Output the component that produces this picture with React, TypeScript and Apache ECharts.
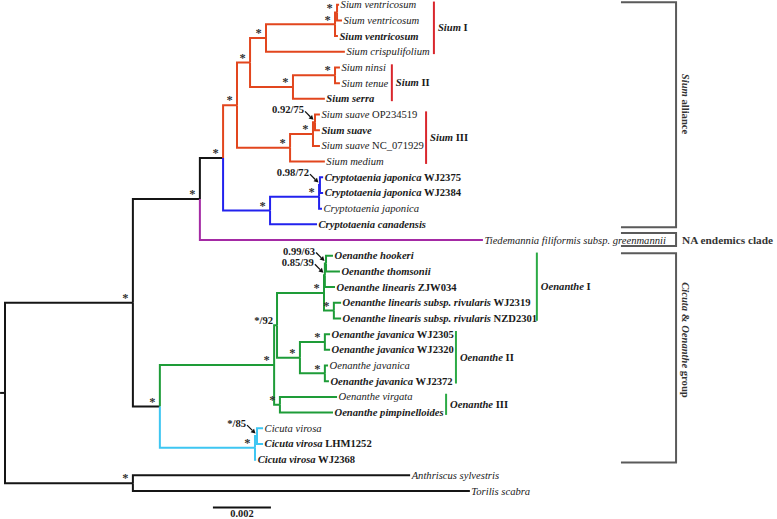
import { useEffect, useRef } from "react";
import * as echarts from "echarts";

// ---------- DATA ----------
// tips (top to bottom)
const tipSpecies = [
  "Sium ventricosum", "Sium ventricosum", "Sium ventricosum", "Sium crispulifolium",
  "Sium ninsi", "Sium tenue", "Sium serra",
  "Sium suave", "Sium suave", "Sium suave", "Sium medium",
  "Cryptotaenia japonica", "Cryptotaenia japonica", "Cryptotaenia japonica", "Cryptotaenia canadensis",
  "Tiedemannia filiformis subsp. greenmannii",
  "Oenanthe hookeri", "Oenanthe thomsonii", "Oenanthe linearis",
  "Oenanthe linearis subsp. rivularis", "Oenanthe linearis subsp. rivularis",
  "Oenanthe javanica", "Oenanthe javanica", "Oenanthe javanica", "Oenanthe javanica",
  "Oenanthe virgata", "Oenanthe pimpinelloides",
  "Cicuta virosa", "Cicuta virosa", "Cicuta virosa",
  "Anthriscus sylvestris", "Torilis scabra",
];
const tipCodes = [
  "", "", "", "", "", "", "", "OP234519", "", "NC_071929", "",
  "WJ2375", "WJ2384", "", "", "",
  "", "", "ZJW034", "WJ2319", "NZD2301", "WJ2305", "WJ2320", "", "WJ2372", "", "",
  "", "LHM1252", "WJ2368", "", "",
];
const tipBold = [0, 0, 1, 0, 0, 0, 1, 0, 1, 0, 0, 1, 1, 0, 1, 0, 1, 1, 1, 1, 1, 1, 1, 0, 1, 0, 1, 0, 1, 1, 0, 0];
// cumulative distance from root, in units of 0.001 substitutions/site
const tipDepth = [
  11.52, 11.62, 11.48, 11.72, 11.55, 11.55, 11.03, 10.86, 10.86, 10.86, 11.03,
  10.97, 10.97, 10.93, 10.76, 16.48,
  11.31, 11.55, 11.38, 11.59, 11.59, 11.21, 11.21, 11.14, 11.17, 11.45, 11.31,
  8.9, 8.9, 8.66, 13.97, 16.03,
];
const tipClade = [
  "S", "S", "S", "S", "S", "S", "S", "S", "S", "S", "S",
  "C", "C", "C", "C", "T",
  "O", "O", "O", "O", "O", "O", "O", "O", "O", "O", "O",
  "V", "V", "V", "K", "K",
];

// internal nodes
const nodeNames = [
  "root", "ingroup", "outgroup", "A", "B", "Sium", "SiumI_II", "SiumI", "vent3", "vent2",
  "SiumII", "ninsiTenue", "SiumIII", "suave3", "suave2", "Crypto", "jap3", "jap2",
  "CO", "Oen", "OenI_II", "OenI", "OenIb", "OenIc", "rivularis", "OenII", "jav1", "jav2", "OenIII",
  "Cicuta", "Cicuta2",
];
const nodeChildren: (number | string)[][] = [
  ["ingroup", "outgroup"], ["A", "CO"], [30, 31], ["B", 15], ["Sium", "Crypto"],
  ["SiumI_II", "SiumIII"], ["SiumI", "SiumII"], ["vent3", 3], ["vent2", 2], [0, 1],
  ["ninsiTenue", 6], [4, 5], ["suave3", 10], ["suave2", 9], [7, 8],
  ["jap3", 14], ["jap2", 13], [11, 12],
  ["Oen", "Cicuta"], ["OenI_II", "OenIII"], ["OenI", "OenII"], ["OenIb", "rivularis"],
  ["OenIc", 18], [16, 17], [19, 20], ["jav1", "jav2"], [21, 22], [23, 24], [25, 26],
  ["Cicuta2", 29], [27, 28],
];
const nodeDepth = [
  0, 4.41, 4.41, 6.72, 7.52, 8.0, 8.45, 9.0, 11.38, 11.45,
  9.93, 11.38, 9.83, 10.62, 10.69, 9.14, 10.83, 10.86,
  5.34, 9.28, 9.38, 11.0, 11.03, 11.07, 11.34, 10.17, 11.03, 11.03, 9.48,
  8.62, 8.69,
];
const nodeClade = [
  "K", "K", "K", "K", "K", "S", "S", "S", "S", "S",
  "S", "S", "S", "S", "S", "C", "C", "C",
  "K", "O", "O", "O", "O", "O", "O", "O", "O", "O", "O",
  "V", "V",
];
const nodeSupport = [
  "", "*", "*", "*", "*", "*", "*", "*", "*", "*",
  "*", "*", "*", "*", "0.92/75", "*", "*", "0.98/72",
  "*", "*", "*/92", "*", "0.85/39", "0.99/63", "*", "*", "*", "*", "*",
  "*", "*/85",
];
const nodeArrow = [
  0, 0, 0, 0, 0, 0, 0, 0, 0, 0,
  0, 0, 0, 0, 1, 0, 0, 1,
  0, 0, 0, 0, 1, 1, 0, 0, 0, 0, 0,
  0, 1,
];

// clade bars on the right of tips
const cladeGenus = ["Sium", "Sium", "Sium", "Oenanthe", "Oenanthe", "Oenanthe"];
const cladeNumeral = ["I", "II", "III", "I", "II", "III"];
const cladeFirst = [0, 4, 7, 16, 21, 25];
const cladeLast = [3, 6, 10, 20, 24, 26];
const cladeColor = ["R", "R", "R", "G", "G", "G"];

// group brackets
const groupLabels = ["{bi|Sium} {b|alliance}", "{b|NA endemics clade}", "{bi|Cicuta} {b|&} {bi|Oenanthe} {b|group}"];
const groupFirst = [0, 15, 16];
const groupLast = [14, 15, 29];

// scale bar
const scaleLength = 2; // 0.002
const scaleLabel = "0.002";

// ---------- LAYOUT / STYLE ----------
const COLORS: Record<string, string> = {
  S: "#E2461E", C: "#2222EE", T: "#A42AA4", O: "#1E9C38", V: "#3EC6F2", K: "#151515",
  R: "#D9262C", G: "#2BAA45",
};
const FONT = "'Liberation Serif', 'Times New Roman', serif";
const FS = 10.6;
const TXT = "#1a1a1a";
const cladeBarX = [14.79, 13.34, 14.52, 18.34, 15.55, 15.21];
const bracketX0 = 21.24;
const bracketX1 = 23.14;
const groupTextY = [6.33, 15, 21.37];

const nodeIndex: Record<string, number> = {};
nodeNames.forEach((n, i) => (nodeIndex[n] = i));
const nodeY: number[] = [];
function yOf(c: number | string): number {
  if (typeof c === "number") return c;
  const k = nodeIndex[c];
  if (nodeY[k] === undefined) {
    const ys = nodeChildren[k].map(yOf);
    nodeY[k] = (Math.min(...ys) + Math.max(...ys)) / 2;
  }
  return nodeY[k];
}
nodeNames.forEach((n) => yOf(n));
const depthOf = (c: number | string) => (typeof c === "number" ? tipDepth[c] : nodeDepth[nodeIndex[c]]);
const cladeOf = (c: number | string) => (typeof c === "number" ? tipClade[c] : nodeClade[nodeIndex[c]]);

const branchData: number[][] = [];
const branchColor: string[] = [];
nodeChildren.forEach((kids, k) => {
  kids.forEach((c) => {
    branchData.push([nodeDepth[k], nodeY[k], depthOf(c), yOf(c)]);
    branchColor.push(COLORS[cladeOf(c)]);
  });
});
// root stub
branchData.push([-0.17, nodeY[0], 0, nodeY[0]]);
branchColor.push(COLORS.K);

const rich = {
  i: { fontStyle: "italic", fontFamily: FONT, fontSize: FS, fill: TXT },
  bi: { fontStyle: "italic", fontWeight: "bold", fontFamily: FONT, fontSize: FS, fill: TXT },
  b: { fontWeight: "bold", fontFamily: FONT, fontSize: FS, fill: TXT },
  n: { fontFamily: FONT, fontSize: FS, fill: TXT },
};
const tipLabel = (i: number) => {
  const b = tipBold[i] === 1;
  let s = `{${b ? "bi" : "i"}|${tipSpecies[i]}}`;
  if (tipCodes[i]) s += `{${b ? "b" : "n"}| ${tipCodes[i]}}`;
  return s;
};

function buildOption() {
  return {
    animation: false,
    grid: { left: 5, top: 4.7, width: 754, height: 486.3, show: false },
    xAxis: { type: "value", min: 0, max: 26, show: false },
    yAxis: { type: "value", min: 0, max: 31, inverse: true, show: false },
    series: [
      {
        type: "custom",
        clip: false,
        data: branchData,
        renderItem: (params: any, api: any) => {
          const p1 = api.coord([api.value(0), api.value(1)]);
          const p2 = api.coord([api.value(0), api.value(3)]);
          const p3 = api.coord([api.value(2), api.value(3)]);
          return {
            type: "polyline",
            shape: { points: [p1, p2, p3] },
            style: { stroke: branchColor[params.dataIndex], lineWidth: 2, fill: "none" },
          };
        },
      },
      {
        type: "custom",
        clip: false,
        data: tipDepth.map((d, i) => [d, i]),
        renderItem: (params: any, api: any) => {
          const p = api.coord([api.value(0), api.value(1)]);
          return {
            type: "text",
            x: p[0] + 1.5,
            y: p[1],
            style: {
              text: tipLabel(params.dataIndex),
              rich,
              fontFamily: FONT,
              fontSize: FS,
              fill: TXT,
              align: "left",
              verticalAlign: "middle",
            },
          };
        },
      },
      {
        type: "custom",
        clip: false,
        data: nodeDepth.map((d, k) => [d, nodeY[k]]),
        renderItem: (params: any, api: any) => {
          const k = params.dataIndex;
          const sup = nodeSupport[k];
          if (!sup) return null;
          const p = api.coord([api.value(0), api.value(1)]);
          if (sup === "*") {
            return {
              type: "text",
              x: p[0] - 7.5,
              y: p[1] - 4.8,
              style: { text: "*", fontFamily: FONT, fontSize: 12.5, lineHeight: 10, fontWeight: "bold", fill: "#222", opacity: 0.95, align: "center", verticalAlign: "middle" },
            };
          }
          if (!nodeArrow[k]) {
            return {
              type: "text",
              x: p[0] - 4,
              y: p[1] - 5,
              style: { text: sup, fontFamily: FONT, fontSize: FS, fontWeight: "bold", fill: TXT, align: "right", verticalAlign: "middle" },
            };
          }
          const sx = p[0] - 10, sy = p[1] - 11;
          const ex = p[0] - 1.5, ey = p[1] - 2.5;
          const dx = ex - sx, dy = ey - sy;
          const L = Math.hypot(dx, dy);
          const ux = dx / L, uy = dy / L;
          const hx = ex - ux * 4.5, hy = ey - uy * 4.5;
          return {
            type: "group",
            children: [
              {
                type: "text",
                x: p[0] - 11,
                y: p[1] - 12.5,
                style: { text: sup, fontFamily: FONT, fontSize: FS, fontWeight: "bold", fill: TXT, align: "right", verticalAlign: "middle" },
              },
              {
                type: "line",
                shape: { x1: sx, y1: sy, x2: hx, y2: hy },
                style: { stroke: "#111", lineWidth: 1.3 },
              },
              {
                type: "polygon",
                shape: { points: [[ex, ey], [hx - uy * 2.5, hy + ux * 2.5], [hx + uy * 2.5, hy - ux * 2.5]] },
                style: { fill: "#111" },
              },
            ],
          };
        },
      },
      {
        type: "custom",
        clip: false,
        data: cladeBarX.map((x, i) => [x, cladeFirst[i] - 0.2, cladeLast[i] + 0.15]),
        renderItem: (params: any, api: any) => {
          const i = params.dataIndex;
          const a = api.coord([api.value(0), api.value(1)]);
          const b = api.coord([api.value(0), api.value(2)]);
          return {
            type: "group",
            children: [
              {
                type: "line",
                shape: { x1: a[0], y1: a[1], x2: b[0], y2: b[1] },
                style: { stroke: COLORS[cladeColor[i]], lineWidth: 2 },
              },
              {
                type: "text",
                x: a[0] + 4,
                y: (a[1] + b[1]) / 2,
                style: {
                  text: `{bi|${cladeGenus[i]}}{b| ${cladeNumeral[i]}}`,
                  rich,
                  fontFamily: FONT,
                  fontSize: FS,
                  fill: TXT,
                  align: "left",
                  verticalAlign: "middle",
                },
              },
            ],
          };
        },
      },
      {
        type: "custom",
        clip: false,
        data: groupFirst.map((f, i) => [bracketX0, bracketX1, f - (i === 1 ? 0.45 : 0.15), groupLast[i] + (i === 1 ? 0.38 : 0.18), groupTextY[i]]),
        renderItem: (params: any, api: any) => {
          const i = params.dataIndex;
          const tl = api.coord([api.value(0), api.value(2)]);
          const br = api.coord([api.value(1), api.value(3)]);
          const ty = api.coord([api.value(1), api.value(4)]);
          const isNA = i === 1;
          const stroke = "#5a5a5a";
          return {
            type: "group",
            children: [
              { type: "polyline", shape: { points: [[tl[0], tl[1]], [br[0], tl[1]], [br[0], br[1]], [tl[0], br[1]]] }, style: { stroke, lineWidth: 2, fill: "none" } },
              isNA
                ? {
                    type: "text",
                    x: br[0] + 6,
                    y: ty[1],
                    style: { text: groupLabels[i], rich: { ...rich, b: { ...rich.b, fontSize: 11.3, fill: "#333" } }, fontFamily: FONT, fontSize: 11.3, align: "left", verticalAlign: "middle" },
                  }
                : {
                    type: "text",
                    x: br[0] + 9,
                    y: ty[1],
                    rotation: -Math.PI / 2,
                    style: { text: groupLabels[i], rich: { bi: { ...rich.bi, fill: "#333" }, b: { ...rich.b, fill: "#333" } }, fontFamily: FONT, fontSize: FS, align: "center", verticalAlign: "middle" },
                  },
            ],
          };
        },
      },
      {
        type: "custom",
        clip: false,
        data: [[7.17, 7.17 + scaleLength, 32.05]],
        renderItem: (params: any, api: any) => {
          const a = api.coord([api.value(0), api.value(2)]);
          const b = api.coord([api.value(1), api.value(2)]);
          return {
            type: "group",
            children: [
              { type: "line", shape: { x1: a[0], y1: a[1], x2: b[0], y2: b[1] }, style: { stroke: "#111", lineWidth: 2 } },
              {
                type: "text",
                x: (a[0] + b[0]) / 2,
                y: a[1] + 6,
                style: { text: scaleLabel, fontFamily: FONT, fontSize: 10.4, fontWeight: "bold", fill: TXT, align: "center", verticalAlign: "middle" },
              },
            ],
          };
        },
      },
    ],
  };
}

export default function App() {
  const ref = useRef<HTMLDivElement>(null);
  useEffect(() => {
    const chart = echarts.init(ref.current!, null, { renderer: "svg" });
    chart.setOption(buildOption() as any);
    return () => chart.dispose();
  }, []);
  return (
    <div
      ref={ref}
      style={{ position: "fixed", left: 0, top: 0, width: 777, height: 519, background: "#fff" }}
    />
  );
}
